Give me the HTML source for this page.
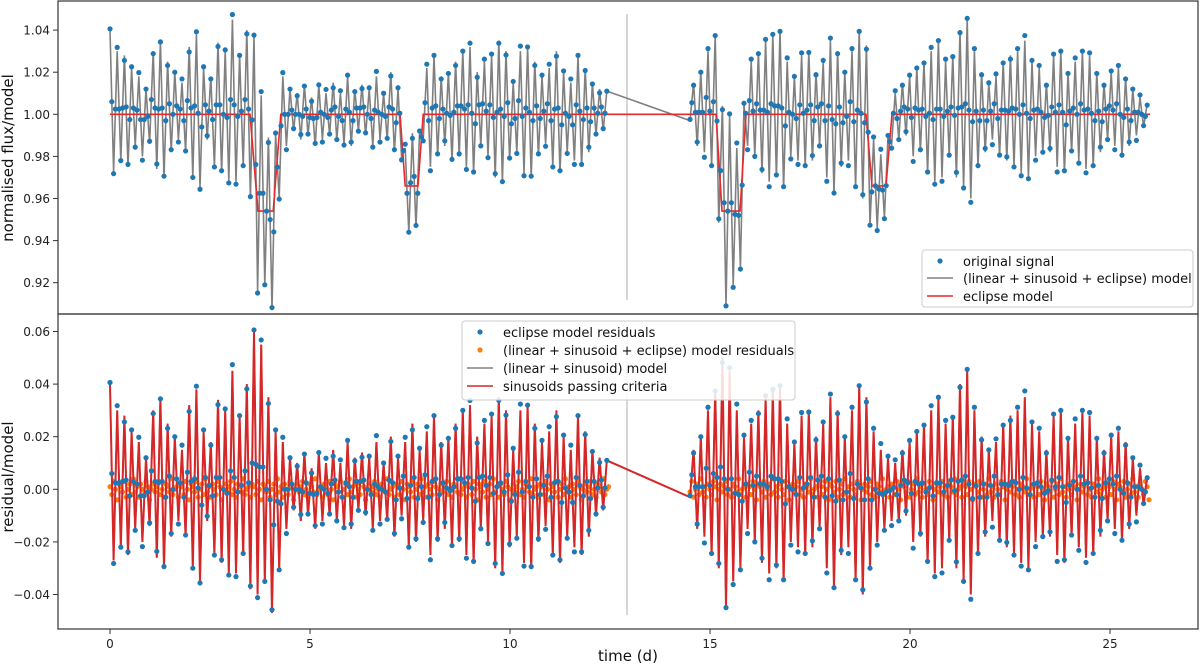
<!DOCTYPE html>
<html><head><meta charset="utf-8"><style>
html,body{margin:0;padding:0;background:#fff;}
svg{display:block;font-family:"DejaVu Sans","Liberation Sans",sans-serif;}
</style></head><body>
<svg id="chart" width="1200" height="664" viewBox="0 0 1200 664"></svg>
<script>
// ---- data ----
const seg1Start = 0, seg2Start = 14.5, stepD = 0.09;
// oscillation extremes (units of 0.001), segment 1
const osc1 = [40,-27,30,-22,28,-25,22,-15,18,-20,12,
 -14,30,-26,35,-30,25,-18,20,-12,15,-18,
 32,-30,38,-35,22,-12,18,-25,34,-28,30,
 -32,45,-32,28,-25,40,-38,60,-40,55,-35,
 35,-47,22,-30,18,-15,12,-8,10,-12,14,
 -10,8,-15,14,-12,10,-10,15,-12,10,-14,
 18,-15,12,-8,14,-10,12,-15,18,-12,10,
 -12,20,-18,12,-10,18,-22,25,-20,15,-12,
 22,-25,28,-20,18,-15,20,-22,25,-20,30,
 -25,32,-28,20,-15,25,-20,28,-30,35,-32,
 30,-22,15,-18,30,-28,32,-30,25,-20,18,
 -14,22,-25,30,-28,20,-18,15,-22,28,-25,
 22,-18,15,-10,12,-8,11];
// segment 2
const osc2 = [-3,15,-15,20,-18,30,-25,38,-30,50,-45,45,
 -35,30,-30,20,-15,25,-20,30,-28,35,-32,
 38,-30,40,-35,25,-20,18,-22,28,-25,30,
 -22,20,-15,25,-30,35,-38,30,-25,20,-22,
 30,-35,40,-40,35,-30,22,-20,15,-15,12,
 -12,10,-12,15,-10,18,-20,22,-18,25,-28,
 30,-32,35,-30,25,-20,28,-30,40,-35,45,
 -40,30,-25,20,-18,15,-12,18,-20,25,-22,
 28,-25,30,-28,35,-30,25,-20,22,-18,15,
 -18,28,-25,30,-28,20,-18,25,-22,30,-26,
 28,-25,20,-18,15,-12,20,-15,22,-20,18,
 -15,12,-10,8,-6,5];
// residuals of full model (units of 0.001)
const smallResid = [1,-2,3,0,-4,2,1,-1,3,-3,0,2,-2,4,-1,1,-3,2,0,-2,3,1,-4,0,2,-1,1,3,-2,0,-3,2,1,-1,4,-2,0,1,-3,2];
// eclipse model breakpoints
const eclT = [0,3.5,3.7,4.08,4.27,7.25,7.38,7.7,7.83,12.5,14.5,15.15,15.3,15.75,15.9,18.9,19.05,19.4,19.55,26];
const eclV = [1,1,0.954,0.954,1,1,0.966,0.966,1,1,1,1,0.954,0.954,1,1,0.966,0.966,1,1];
const xTicks = [0,5,10,15,20,25];
const yTopTicks = [0.92,0.94,0.96,0.98,1.00,1.02,1.04];
const yBotTicks = [-0.04,-0.02,0.00,0.02,0.04,0.06];

// ---- scales ----
const X = t => 110 + t*40;
const YT = v => 114.3 + (1 - v)/0.02*42.1;
const YB = v => 489.3 - v/0.02*52.6;
const NS = "http://www.w3.org/2000/svg";
const svg = document.getElementById('chart');
function mk(tag, attrs, parent){const e=document.createElementNS(NS,tag);for(const k in attrs)e.setAttribute(k,attrs[k]);(parent||svg).appendChild(e);return e;}
function ecl(t){for(let i=0;i<eclT.length-1;i++){if(t>=eclT[i]&&t<=eclT[i+1]){const f=(t-eclT[i])/(eclT[i+1]-eclT[i]||1);return eclV[i]+f*(eclV[i+1]-eclV[i]);}}return 1;}

const segs=[[seg1Start,osc1],[seg2Start,osc2]];
const pts=[];
segs.forEach(([t0,arr])=>{const s=[];arr.forEach((v,i)=>s.push({t:t0+i*stepD,o:v/1000}));pts.push(s);});

const gTop=mk('g',{});


const gBot=mk('g',{});



let vl=mk('line',{x1:627,x2:627,y1:14,y2:300,stroke:'#c8c8c8','stroke-width':1.5},gTop);


vl=mk('line',{x1:627,x2:627,y1:325,y2:615,stroke:'#c8c8c8','stroke-width':1.5},gBot);



let d='';pts.flat().forEach((p,i)=>{d+=(i?'L':'M')+X(p.t).toFixed(1)+','+YT(p.o+ecl(p.t)).toFixed(1);});
let pl=mk('path',{d:d,fill:'none',stroke:'#808080','stroke-width':1.6},gTop);


d='';eclT.forEach((t,i)=>{d+=(i?'L':'M')+X(t).toFixed(1)+','+YT(eclV[i]).toFixed(1);});
pl=mk('path',{d:d,fill:'none',stroke:'#e8282b','stroke-width':1.6},gTop);


pts.forEach(s=>s.forEach((p,i)=>{
  const r=smallResid[i%smallResid.length]/1000;
  let c=mk('circle',{cx:X(p.t),cy:YT(p.o+ecl(p.t)+r*0.6),r:2.6,fill:'#1f77b4'},gTop);
  
  
  if(i<s.length-1){const q=s[i+1];const tm=(p.t+q.t)/2;const om=(p.o+q.o)/2;
    c=mk('circle',{cx:X(tm),cy:YT(om+ecl(tm)-r*0.5),r:2.6,fill:'#1f77b4'},gTop);
    
    }
}));

pts.forEach((s,si)=>s.forEach((p,i)=>{[0,1].forEach(k=>{
  const v=smallResid[(i*2+k+si*7)%smallResid.length]/1000;
  const c=mk('circle',{cx:X(p.t+k*stepD/2),cy:YB(v),r:2.6,fill:'#ff7f0e'},gBot);
  
  });}));
d='';pts.flat().forEach((p,i)=>{d+=(i?'L':'M')+X(p.t).toFixed(1)+','+YB(p.o).toFixed(1);});
pl=mk('path',{d:d,fill:'none',stroke:'#808080','stroke-width':1.6},gBot);


pl=mk('path',{d:d,fill:'none',stroke:'#d62728','stroke-width':2},gBot);


pts.forEach(s=>s.forEach((p,i)=>{
  const r=smallResid[i%smallResid.length]/1000;
  let c=mk('circle',{cx:X(p.t),cy:YB(p.o+r*0.6),r:2.6,fill:'#1f77b4'},gBot);
  
  
  if(i<s.length-1){const q=s[i+1];const tm=(p.t+q.t)/2;
    c=mk('circle',{cx:X(tm),cy:YB((p.o+q.o)/2-r*0.5),r:2.6,fill:'#1f77b4'},gBot);
    
    }
}));

let fr=mk('rect',{x:58,y:1,width:1140,height:313,fill:'none',stroke:'#333','stroke-width':1.2});


fr=mk('rect',{x:58,y:314,width:1140,height:315,fill:'none',stroke:'#333','stroke-width':1.2});



xTicks.forEach(t=>{mk('line',{x1:X(t),x2:X(t),y1:629,y2:634,stroke:'#333'});
  const tx=mk('text',{x:X(t),y:648,'text-anchor':'middle','font-size':12,fill:'#222'});tx.textContent=t;
  
  });
yTopTicks.forEach(v=>{mk('line',{x1:53,x2:58,y1:YT(v),y2:YT(v),stroke:'#333'});
  const tx=mk('text',{x:50,y:YT(v)+4.5,'text-anchor':'end','font-size':12,fill:'#222'});tx.textContent=v.toFixed(2);
  
  });
yBotTicks.forEach(v=>{mk('line',{x1:53,x2:58,y1:YB(v),y2:YB(v),stroke:'#333'});
  const tx=mk('text',{x:50,y:YB(v)+4.5,'text-anchor':'end','font-size':12,fill:'#222'});tx.textContent=(v<0?'\u2212':'')+Math.abs(v).toFixed(2);
  
  });
</script>
<svg style="position:absolute;left:0;top:0" width="1200" height="664">
 <text x="628" y="661" text-anchor="middle" font-size="15" fill="#111">time (d)</text>
 <text transform="translate(13,158) rotate(-90)" text-anchor="middle" font-size="15" fill="#111">normalised flux/model</text>
 <text transform="translate(13,477) rotate(-90)" text-anchor="middle" font-size="15" fill="#111">residual/model</text>
 <g>
  <rect x="922" y="250" width="271" height="57" rx="3" fill="#fff" fill-opacity="0.85" stroke="#ccc"/>
  <circle cx="940" cy="261" r="2.6" fill="#1f77b4"/>
  <text x="963" y="266" font-size="13" fill="#111">original signal</text>
  <line x1="927" x2="953" y1="278" y2="278" stroke="#808080" stroke-width="1.6"/>
  <text x="963" y="283" font-size="13" fill="#111">(linear + sinusoid + eclipse) model</text>
  <line x1="927" x2="953" y1="296" y2="296" stroke="#e8282b" stroke-width="1.6"/>
  <text x="963" y="301" font-size="13" fill="#111">eclipse model</text>
 </g>
 <g>
  <rect x="462" y="321" width="333" height="79" rx="3" fill="#fff" fill-opacity="0.85" stroke="#ccc"/>
  <circle cx="480" cy="332" r="2.6" fill="#1f77b4"/>
  <text x="503" y="337" font-size="13" fill="#111">eclipse model residuals</text>
  <circle cx="480" cy="350" r="2.6" fill="#ff7f0e"/>
  <text x="503" y="355" font-size="13" fill="#111">(linear + sinusoid + eclipse) model residuals</text>
  <line x1="467" x2="493" y1="368" y2="368" stroke="#808080" stroke-width="1.6"/>
  <text x="503" y="373" font-size="13" fill="#111">(linear + sinusoid) model</text>
  <line x1="467" x2="493" y1="386" y2="386" stroke="#d62728" stroke-width="1.6"/>
  <text x="503" y="391" font-size="13" fill="#111">sinusoids passing criteria</text>
 </g>
</svg>
</body></html>
